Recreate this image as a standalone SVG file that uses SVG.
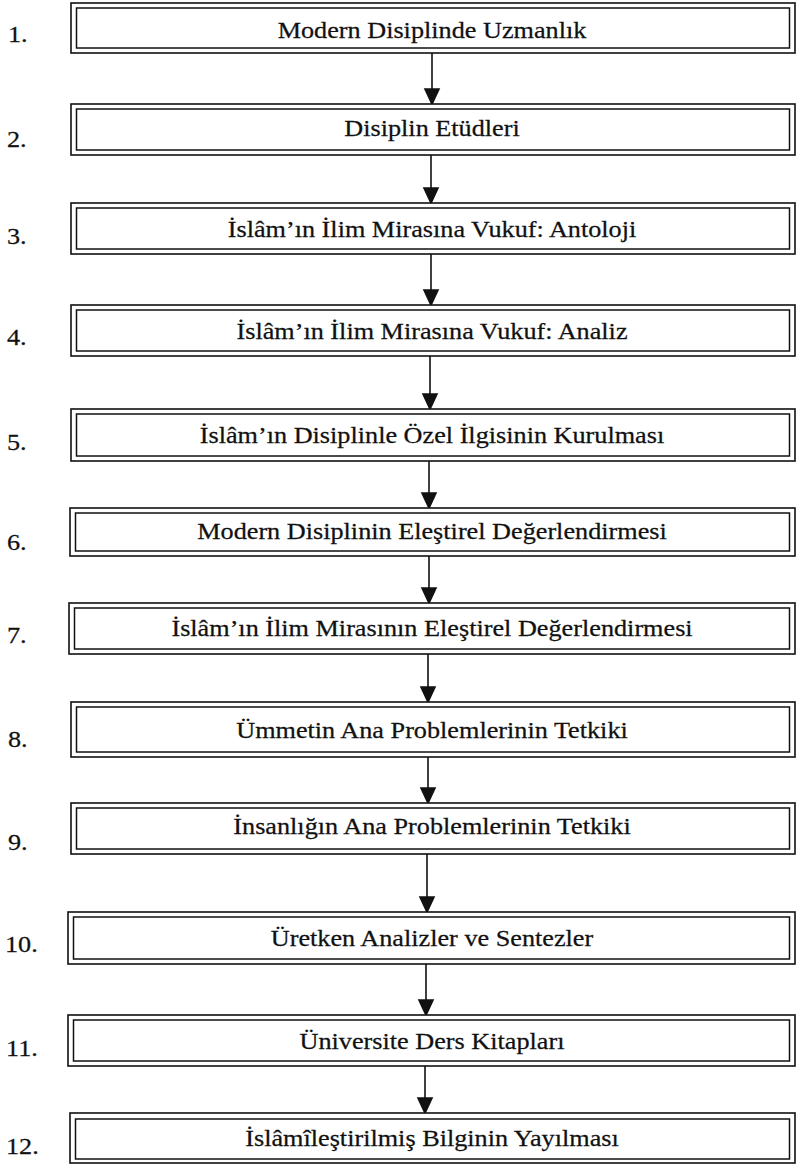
<svg xmlns="http://www.w3.org/2000/svg" width="797" height="1165" viewBox="0 0 797 1165">
  <defs>
    <style>
      .outer { fill: #fff; stroke: #111; stroke-width: 1.6; }
      .inner { fill: none; stroke: #111; stroke-width: 1.5; }
      .t { font-family: "Liberation Serif", "Times New Roman", serif; font-size: 23px; fill: #111; stroke: #111; stroke-width: 0.25; }
      .c { text-anchor: middle; }
      .num { text-anchor: start; }
    </style>
  </defs>
  <rect width="797" height="1165" fill="#fff"/>

  <!-- connectors: shaft plus filled arrowhead ending on the next box -->
  <g id="connectors" stroke="#111" stroke-width="1.6" fill="#111">
    <line x1="432" y1="53" x2="432" y2="90"/><path d="M425,89 L439,89 L432,104 Z"/>
    <line x1="431" y1="155" x2="431" y2="189"/><path d="M424,188 L438,188 L431,203 Z"/>
    <line x1="431" y1="254" x2="431" y2="291"/><path d="M424,290 L438,290 L431,305 Z"/>
    <line x1="430" y1="356" x2="430" y2="395"/><path d="M423,394 L437,394 L430,409 Z"/>
    <line x1="429" y1="461" x2="429" y2="494"/><path d="M422,493 L436,493 L429,508 Z"/>
    <line x1="429" y1="556" x2="429" y2="589"/><path d="M422,588 L436,588 L429,603 Z"/>
    <line x1="428" y1="654" x2="428" y2="688"/><path d="M421,687 L435,687 L428,702 Z"/>
    <line x1="428" y1="757" x2="428" y2="789"/><path d="M421,788 L435,788 L428,803 Z"/>
    <line x1="427" y1="854" x2="427" y2="898"/><path d="M420,897 L434,897 L427,912 Z"/>
    <line x1="426" y1="964" x2="426" y2="1001"/><path d="M419,1000 L433,1000 L426,1015 Z"/>
    <line x1="425" y1="1066" x2="425" y2="1099"/><path d="M418,1098 L432,1098 L425,1113 Z"/>
  </g>

  <!-- step boxes: double-ruled frame, number at left, title centred -->
  <g id="step1">
    <rect class="outer" x="71" y="3" width="724" height="50"/>
    <rect class="inner" x="76.5" y="8" width="713" height="40"/>
    <text class="t num" transform="translate(8 42) scale(1.14 1)">1.</text>
    <text class="t c" transform="translate(432 38) scale(1.14 1)">Modern Disiplinde Uzmanlık</text>
  </g>
  <g id="step2">
    <rect class="outer" x="71" y="104" width="724" height="51"/>
    <rect class="inner" x="76.5" y="109" width="713" height="41"/>
    <text class="t num" transform="translate(7 147) scale(1.14 1)">2.</text>
    <text class="t c" transform="translate(432 136) scale(1.14 1)">Disiplin Etüdleri</text>
  </g>
  <g id="step3">
    <rect class="outer" x="71" y="203" width="724" height="51"/>
    <rect class="inner" x="76.5" y="208" width="713" height="41"/>
    <text class="t num" transform="translate(7 244) scale(1.14 1)">3.</text>
    <text class="t c" transform="translate(432 237) scale(1.14 1)">İslâm’ın İlim Mirasına Vukuf: Antoloji</text>
  </g>
  <g id="step4">
    <rect class="outer" x="71" y="305" width="724" height="51"/>
    <rect class="inner" x="76.5" y="310" width="713" height="41"/>
    <text class="t num" transform="translate(7 345) scale(1.14 1)">4.</text>
    <text class="t c" transform="translate(432 339) scale(1.14 1)">İslâm’ın İlim Mirasına Vukuf: Analiz</text>
  </g>
  <g id="step5">
    <rect class="outer" x="71" y="409" width="724" height="52"/>
    <rect class="inner" x="76.5" y="414" width="713" height="42"/>
    <text class="t num" transform="translate(7 450) scale(1.14 1)">5.</text>
    <text class="t c" transform="translate(432 443) scale(1.14 1)">İslâm’ın Disiplinle Özel İlgisinin Kurulması</text>
  </g>
  <g id="step6">
    <rect class="outer" x="70" y="508" width="725" height="48"/>
    <rect class="inner" x="75.5" y="513" width="714" height="38"/>
    <text class="t num" transform="translate(7 550) scale(1.14 1)">6.</text>
    <text class="t c" transform="translate(432 539) scale(1.14 1)">Modern Disiplinin Eleştirel Değerlendirmesi</text>
  </g>
  <g id="step7">
    <rect class="outer" x="69" y="603" width="726" height="51"/>
    <rect class="inner" x="74.5" y="608" width="715" height="41"/>
    <text class="t num" transform="translate(7 643) scale(1.14 1)">7.</text>
    <text class="t c" transform="translate(432 636) scale(1.14 1)">İslâm’ın İlim Mirasının Eleştirel Değerlendirmesi</text>
  </g>
  <g id="step8">
    <rect class="outer" x="71" y="702" width="724" height="55"/>
    <rect class="inner" x="76.5" y="707" width="713" height="45"/>
    <text class="t num" transform="translate(8 747) scale(1.14 1)">8.</text>
    <text class="t c" transform="translate(432 738) scale(1.14 1)">Ümmetin Ana Problemlerinin Tetkiki</text>
  </g>
  <g id="step9">
    <rect class="outer" x="71" y="803" width="724" height="51"/>
    <rect class="inner" x="76.5" y="808" width="713" height="41"/>
    <text class="t num" transform="translate(8 850) scale(1.14 1)">9.</text>
    <text class="t c" transform="translate(432 834) scale(1.14 1)">İnsanlığın Ana Problemlerinin Tetkiki</text>
  </g>
  <g id="step10">
    <rect class="outer" x="68" y="912" width="727" height="52"/>
    <rect class="inner" x="73.5" y="917" width="716" height="42"/>
    <text class="t num" transform="translate(5 952) scale(1.14 1)">10.</text>
    <text class="t c" transform="translate(432 946) scale(1.14 1)">Üretken Analizler ve Sentezler</text>
  </g>
  <g id="step11">
    <rect class="outer" x="68" y="1015" width="727" height="51"/>
    <rect class="inner" x="73.5" y="1020" width="716" height="41"/>
    <text class="t num" transform="translate(6 1056) scale(1.14 1)">11.</text>
    <text class="t c" transform="translate(432 1049) scale(1.14 1)">Üniversite Ders Kitapları</text>
  </g>
  <g id="step12">
    <rect class="outer" x="70" y="1113" width="725" height="50"/>
    <rect class="inner" x="75.5" y="1119" width="714" height="40"/>
    <text class="t num" transform="translate(6 1154) scale(1.14 1)">12.</text>
    <text class="t c" transform="translate(432 1146) scale(1.14 1)">İslâmîleştirilmiş Bilginin Yayılması</text>
  </g>
</svg>
